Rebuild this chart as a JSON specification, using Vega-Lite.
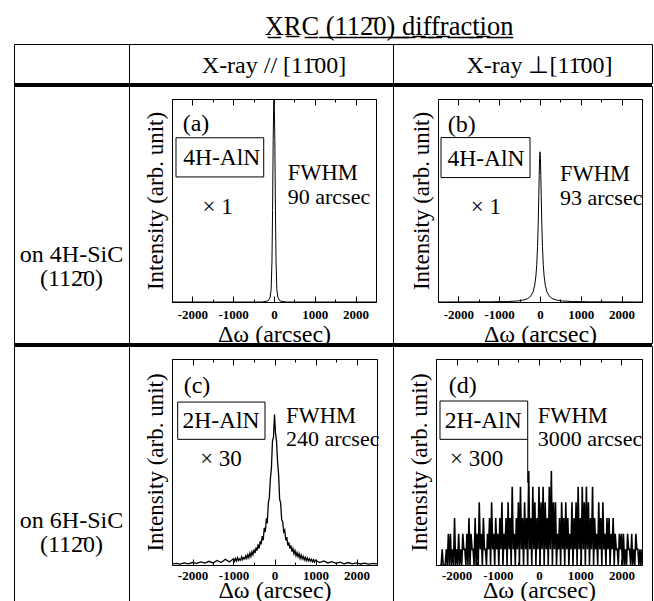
{
 "$schema": "https://vega.github.io/schema/vega-lite/v6.json",
 "padding": {"left": 13, "top": 13, "right": 0, "bottom": -1},
 "title": {"text": "X\u0332R\u0332C\u0332 \u0332(\u03321\u03321\u03322\u0304\u03320\u0332)\u0332 \u0332d\u0332i\u0332f\u0332f\u0332r\u0332a\u0332c\u0332t\u0332i\u0332o\u0332n\u0332", "fontSize": 26.5, "font": "Liberation Serif", "fontWeight": "normal", "color": "black", "anchor": "middle", "dx": 56, "offset": 3.5, "baseline": "top"},
 "config": {
  "font": "Liberation Serif",
  "view": {"stroke": "black", "strokeWidth": 1},
  "concat": {"spacing": 0},
  "axis": {"grid": false, "domainColor": "black", "domainWidth": 1, "tickColor": "black", "tickWidth": 1, "labelColor": "black", "titleColor": "black", "labelFont": "Liberation Serif", "titleFont": "Liberation Serif", "labelFontSize": 13, "labelFontWeight": "bold", "titleFontSize": 24, "titleFontWeight": "normal", "labelFlush": false},
  "text": {"font": "Liberation Serif", "color": "black"}
 },
 "datasets": {
  "a": [{"w":-2500,"I":0},{"w":-300,"I":0},{"w":-150,"I":0.005},{"w":-100,"I":0.02},{"w":-70,"I":0.06},{"w":-50,"I":0.2},{"w":-35,"I":0.45},{"w":-20,"I":0.8},{"w":-8,"I":0.97},{"w":0,"I":1.0},{"w":8,"I":0.97},{"w":20,"I":0.8},{"w":35,"I":0.45},{"w":50,"I":0.2},{"w":70,"I":0.06},{"w":100,"I":0.02},{"w":150,"I":0.005},{"w":300,"I":0},{"w":2500,"I":0}],
  "b": [{"w":-2500,"I":0},{"w":-1200,"I":0.001},{"w":-800,"I":0.0025},{"w":-550,"I":0.005},{"w":-400,"I":0.01},{"w":-300,"I":0.017},{"w":-220,"I":0.031},{"w":-170,"I":0.05},{"w":-130,"I":0.082},{"w":-100,"I":0.129},{"w":-80,"I":0.184},{"w":-60,"I":0.274},{"w":-45,"I":0.378},{"w":-30,"I":0.519},{"w":-20,"I":0.622},{"w":-10,"I":0.707},{"w":0,"I":0.74},{"w":10,"I":0.707},{"w":20,"I":0.622},{"w":30,"I":0.519},{"w":45,"I":0.378},{"w":60,"I":0.274},{"w":80,"I":0.184},{"w":100,"I":0.129},{"w":130,"I":0.082},{"w":170,"I":0.05},{"w":220,"I":0.031},{"w":300,"I":0.017},{"w":400,"I":0.01},{"w":550,"I":0.005},{"w":800,"I":0.0025},{"w":1200,"I":0.001},{"w":2500,"I":0}],
  "c": [{"w":-2500,"I":0.005},{"w":-2400,"I":0.008},{"w":-2300,"I":0.004},{"w":-2200,"I":0.01},{"w":-2100,"I":0.006},{"w":-2000,"I":0.012},{"w":-1900,"I":0.008},{"w":-1800,"I":0.015},{"w":-1700,"I":0.009},{"w":-1600,"I":0.018},{"w":-1500,"I":0.01},{"w":-1400,"I":0.022},{"w":-1300,"I":0.012},{"w":-1200,"I":0.028},{"w":-1100,"I":0.015},{"w":-1000,"I":0.03},{"w":-975,"I":0.018},{"w":-950,"I":0.032},{"w":-925,"I":0.02},{"w":-900,"I":0.035},{"w":-875,"I":0.022},{"w":-850,"I":0.03},{"w":-825,"I":0.024},{"w":-800,"I":0.04},{"w":-775,"I":0.026},{"w":-750,"I":0.036},{"w":-725,"I":0.03},{"w":-700,"I":0.045},{"w":-675,"I":0.032},{"w":-650,"I":0.05},{"w":-625,"I":0.036},{"w":-600,"I":0.058},{"w":-575,"I":0.042},{"w":-550,"I":0.065},{"w":-525,"I":0.05},{"w":-500,"I":0.075},{"w":-475,"I":0.058},{"w":-450,"I":0.085},{"w":-425,"I":0.07},{"w":-400,"I":0.1},{"w":-375,"I":0.08},{"w":-350,"I":0.115},{"w":-325,"I":0.1},{"w":-300,"I":0.14},{"w":-275,"I":0.12},{"w":-250,"I":0.18},{"w":-225,"I":0.16},{"w":-200,"I":0.22},{"w":-175,"I":0.21},{"w":-150,"I":0.3},{"w":-125,"I":0.33},{"w":-100,"I":0.42},{"w":-75,"I":0.47},{"w":-50,"I":0.6},{"w":-25,"I":0.62},{"w":0,"I":0.73},{"w":25,"I":0.64},{"w":50,"I":0.6},{"w":75,"I":0.5},{"w":100,"I":0.44},{"w":125,"I":0.32},{"w":150,"I":0.3},{"w":175,"I":0.22},{"w":200,"I":0.21},{"w":225,"I":0.16},{"w":250,"I":0.17},{"w":275,"I":0.12},{"w":300,"I":0.135},{"w":325,"I":0.095},{"w":350,"I":0.11},{"w":375,"I":0.08},{"w":400,"I":0.095},{"w":425,"I":0.065},{"w":450,"I":0.08},{"w":475,"I":0.055},{"w":500,"I":0.07},{"w":525,"I":0.045},{"w":550,"I":0.06},{"w":575,"I":0.04},{"w":600,"I":0.055},{"w":625,"I":0.032},{"w":650,"I":0.048},{"w":675,"I":0.03},{"w":700,"I":0.042},{"w":725,"I":0.025},{"w":750,"I":0.038},{"w":775,"I":0.022},{"w":800,"I":0.034},{"w":825,"I":0.02},{"w":850,"I":0.03},{"w":875,"I":0.018},{"w":900,"I":0.028},{"w":925,"I":0.016},{"w":950,"I":0.026},{"w":975,"I":0.014},{"w":1000,"I":0.024},{"w":1100,"I":0.012},{"w":1200,"I":0.02},{"w":1300,"I":0.01},{"w":1400,"I":0.016},{"w":1500,"I":0.008},{"w":1600,"I":0.014},{"w":1700,"I":0.006},{"w":1800,"I":0.012},{"w":1900,"I":0.006},{"w":2000,"I":0.01},{"w":2100,"I":0.005},{"w":2200,"I":0.009},{"w":2300,"I":0.004},{"w":2400,"I":0.008},{"w":2500,"I":0.005}],
  "d": [{"w":-2400,"I":0},{"w":-2375,"I":0},{"w":-2350,"I":0.076},{"w":-2325,"I":0},{"w":-2300,"I":0},{"w":-2275,"I":0},{"w":-2250,"I":0.076},{"w":-2225,"I":0},{"w":-2200,"I":0.152},{"w":-2175,"I":0},{"w":-2150,"I":0.152},{"w":-2125,"I":0},{"w":-2100,"I":0.076},{"w":-2075,"I":0},{"w":-2050,"I":0.228},{"w":-2025,"I":0},{"w":-2000,"I":0.076},{"w":-1975,"I":0},{"w":-1950,"I":0.152},{"w":-1925,"I":0},{"w":-1900,"I":0.076},{"w":-1875,"I":0},{"w":-1850,"I":0.152},{"w":-1825,"I":0.076},{"w":-1800,"I":0.076},{"w":-1775,"I":0},{"w":-1750,"I":0.152},{"w":-1725,"I":0},{"w":-1700,"I":0.228},{"w":-1675,"I":0},{"w":-1650,"I":0.152},{"w":-1625,"I":0.076},{"w":-1600,"I":0.076},{"w":-1575,"I":0},{"w":-1550,"I":0.228},{"w":-1525,"I":0},{"w":-1500,"I":0.152},{"w":-1475,"I":0},{"w":-1450,"I":0.304},{"w":-1425,"I":0.076},{"w":-1400,"I":0.152},{"w":-1375,"I":0},{"w":-1350,"I":0.228},{"w":-1325,"I":0.076},{"w":-1300,"I":0.076},{"w":-1275,"I":0},{"w":-1250,"I":0.152},{"w":-1225,"I":0.076},{"w":-1200,"I":0.228},{"w":-1175,"I":0},{"w":-1150,"I":0.304},{"w":-1125,"I":0.076},{"w":-1100,"I":0.152},{"w":-1075,"I":0},{"w":-1050,"I":0.228},{"w":-1025,"I":0.076},{"w":-1000,"I":0.152},{"w":-975,"I":0},{"w":-950,"I":0.228},{"w":-925,"I":0.076},{"w":-900,"I":0.304},{"w":-875,"I":0},{"w":-850,"I":0.152},{"w":-825,"I":0.076},{"w":-800,"I":0.228},{"w":-775,"I":0},{"w":-750,"I":0.304},{"w":-725,"I":0.076},{"w":-700,"I":0.228},{"w":-675,"I":0},{"w":-650,"I":0.38},{"w":-625,"I":0.076},{"w":-600,"I":0.152},{"w":-575,"I":0},{"w":-550,"I":0.228},{"w":-525,"I":0.076},{"w":-500,"I":0.304},{"w":-475,"I":0},{"w":-450,"I":0.38},{"w":-425,"I":0.076},{"w":-400,"I":0.228},{"w":-375,"I":0},{"w":-350,"I":0.304},{"w":-325,"I":0.076},{"w":-300,"I":0.228},{"w":-275,"I":0},{"w":-250,"I":0.456},{"w":-225,"I":0.076},{"w":-200,"I":0.228},{"w":-175,"I":0},{"w":-150,"I":0.38},{"w":-125,"I":0.076},{"w":-100,"I":0.304},{"w":-75,"I":0},{"w":-50,"I":0.228},{"w":-25,"I":0.076},{"w":0,"I":0.38},{"w":25,"I":0},{"w":50,"I":0.304},{"w":75,"I":0.076},{"w":100,"I":0.38},{"w":125,"I":0},{"w":150,"I":0.304},{"w":175,"I":0.076},{"w":200,"I":0.228},{"w":225,"I":0},{"w":250,"I":0.38},{"w":275,"I":0.076},{"w":300,"I":0.456},{"w":325,"I":0},{"w":350,"I":0.304},{"w":375,"I":0.076},{"w":400,"I":0.304},{"w":425,"I":0},{"w":450,"I":0.152},{"w":475,"I":0.076},{"w":500,"I":0.228},{"w":525,"I":0},{"w":550,"I":0.304},{"w":575,"I":0.076},{"w":600,"I":0.228},{"w":625,"I":0},{"w":650,"I":0.304},{"w":675,"I":0.076},{"w":700,"I":0.228},{"w":725,"I":0},{"w":750,"I":0.152},{"w":775,"I":0.076},{"w":800,"I":0.304},{"w":825,"I":0},{"w":850,"I":0.228},{"w":875,"I":0.076},{"w":900,"I":0.304},{"w":925,"I":0},{"w":950,"I":0.38},{"w":975,"I":0.076},{"w":1000,"I":0.228},{"w":1025,"I":0},{"w":1050,"I":0.38},{"w":1075,"I":0.076},{"w":1100,"I":0.304},{"w":1125,"I":0},{"w":1150,"I":0.38},{"w":1175,"I":0.076},{"w":1200,"I":0.304},{"w":1225,"I":0},{"w":1250,"I":0.228},{"w":1275,"I":0.076},{"w":1300,"I":0.38},{"w":1325,"I":0},{"w":1350,"I":0.228},{"w":1375,"I":0.076},{"w":1400,"I":0.152},{"w":1425,"I":0},{"w":1450,"I":0.304},{"w":1475,"I":0.076},{"w":1500,"I":0.228},{"w":1525,"I":0},{"w":1550,"I":0.304},{"w":1575,"I":0.076},{"w":1600,"I":0.152},{"w":1625,"I":0},{"w":1650,"I":0.228},{"w":1675,"I":0.076},{"w":1700,"I":0.228},{"w":1725,"I":0},{"w":1750,"I":0.152},{"w":1775,"I":0.076},{"w":1800,"I":0.228},{"w":1825,"I":0},{"w":1850,"I":0.152},{"w":1875,"I":0.076},{"w":1900,"I":0.076},{"w":1925,"I":0},{"w":1950,"I":0.152},{"w":1975,"I":0.076},{"w":2000,"I":0.152},{"w":2025,"I":0},{"w":2050,"I":0.152},{"w":2075,"I":0},{"w":2100,"I":0.076},{"w":2125,"I":0},{"w":2150,"I":0.152},{"w":2175,"I":0.076},{"w":2200,"I":0.076},{"w":2225,"I":0},{"w":2250,"I":0.152},{"w":2275,"I":0},{"w":2300,"I":0.076},{"w":2325,"I":0},{"w":2350,"I":0.152},{"w":2375,"I":0.076},{"w":2400,"I":0.076},{"w":2425,"I":0},{"w":2450,"I":0.076},{"w":2475,"I":0},{"w":2500,"I":0.076}],
  "notes": [
   {"panel":"a","kind":"tag","x":-2238,"y":0.84,"text":"(a)"},
   {"panel":"a","kind":"box","x":-2402,"x2":-252,"y":0.809,"y2":0.616},
   {"panel":"a","kind":"name","x":-1282,"y":0.675,"text":"4H-AlN"},
   {"panel":"a","kind":"mult","x":-1380,"y":0.435,"text":"× 1"},
   {"panel":"a","kind":"fh","x":336,"y":0.6,"text":"FWHM"},
   {"panel":"a","kind":"fv","x":336,"y":0.481,"text":"90 arcsec"},
   {"panel":"b","kind":"tag","x":-2262,"y":0.838,"text":"(b)"},
   {"panel":"b","kind":"box","x":-2426,"x2":-245,"y":0.81,"y2":0.613},
   {"panel":"b","kind":"name","x":-1324,"y":0.67,"text":"4H-AlN"},
   {"panel":"b","kind":"mult","x":-1324,"y":0.433,"text":"× 1"},
   {"panel":"b","kind":"fh","x":490,"y":0.597,"text":"FWHM"},
   {"panel":"b","kind":"fv","x":490,"y":0.48,"text":"93 arcsec"},
   {"panel":"c","kind":"tag","x":-2215,"y":0.836,"text":"(c)"},
   {"panel":"c","kind":"box","x":-2361,"x2":-232,"y":0.791,"y2":0.61},
   {"panel":"c","kind":"name","x":-1305,"y":0.667,"text":"2H-AlN"},
   {"panel":"c","kind":"mult","x":-1305,"y":0.48,"text":"× 30"},
   {"panel":"c","kind":"fh","x":280,"y":0.688,"text":"FWHM"},
   {"panel":"c","kind":"fv","x":280,"y":0.578,"text":"240 arcsec"},
   {"panel":"d","kind":"tag","x":-2192,"y":0.836,"text":"(d)"},
   {"panel":"d","kind":"box","x":-2403,"x2":-274,"y":0.796,"y2":0.61},
   {"panel":"d","kind":"ext","x":-274,"y":0.61,"y2":0.4},
   {"panel":"d","kind":"name","x":-1352,"y":0.667,"text":"2H-AlN"},
   {"panel":"d","kind":"mult","x":-1512,"y":0.48,"text":"× 300"},
   {"panel":"d","kind":"fh","x":-31,"y":0.688,"text":"FWHM"},
   {"panel":"d","kind":"fv","x":-31,"y":0.578,"text":"3000 arcsec"}
  ]
 },
 "columns": 3,
 "spacing": 0,
 "bounds": "flush",
 "concat": [
  {"width": 115, "height": 39, "view": {"stroke": "black", "strokeWidth": 1}, "data": {"values": [{"t": ""}]}, "mark": "text", "encoding": {"text": {"field": "t"}}},
  {"width": 264, "height": 39, "view": {"stroke": "black", "strokeWidth": 1}, "data": {"values": [{"t": "X-ray // [11\u030400]"}]}, "mark": {"type": "text", "fontSize": 24, "dx": 13, "dy": 2}, "encoding": {"text": {"field": "t"}}},
  {"width": 259, "height": 39, "view": {"stroke": "black", "strokeWidth": 1}, "data": {"values": [{"t": "X-ray \u22a5[11\u030400]"}]}, "mark": {"type": "text", "fontSize": 24, "dx": 17, "dy": 2}, "encoding": {"text": {"field": "t"}}},
  {"width": 115, "height": 3, "view": {"fill": "black", "stroke": null}, "data": {"values": [{"t": ""}]}, "mark": "text", "encoding": {"text": {"field": "t"}}},
  {"width": 264, "height": 3, "view": {"fill": "black", "stroke": null}, "data": {"values": [{"t": ""}]}, "mark": "text", "encoding": {"text": {"field": "t"}}},
  {"width": 259, "height": 3, "view": {"fill": "black", "stroke": null}, "data": {"values": [{"t": ""}]}, "mark": "text", "encoding": {"text": {"field": "t"}}},
  {"width": 115, "height": 257, "view": {"stroke": "black", "strokeWidth": 1}, "data": {"values": [{"t": "on 4H-SiC\n(112\u03040)"}]}, "mark": {"type": "text", "fontSize": 24, "lineBreak": "\n", "lineHeight": 24, "dy": 40}, "encoding": {"text": {"field": "t"}}},
  {"width": 264, "height": 257,
   "resolve": {"axis": {"x": "independent", "y": "independent"}},
   "layer": [
    {"data": {"name": "a"}, "mark": {"type": "line", "color": "black", "strokeWidth": 1},
     "encoding": {
      "x": {"field": "w", "type": "quantitative", "scale": {"domain": [-2500, 2500], "range": [43, 247], "nice": false, "zero": false},
            "axis": {"orient": "bottom", "offset": -41, "values": [-2500,-2000,-1500,-1000,-500,0,500,1000,1500,2000,2500], "labelExpr": "datum.value % 1000 == 0 ? '' + datum.value : ''", "tickSize": {"condition": {"test": "datum.value % 1000 == 0", "value": -6}, "value": -3}, "labelPadding": 12, "title": "Δω (arcsec)", "titlePadding": 1}},
      "y": {"field": "I", "type": "quantitative", "scale": {"domain": [0, 1], "range": [216, 13], "nice": false, "zero": false},
            "axis": {"orient": "left", "offset": -43, "labels": false, "ticks": false, "title": "Intensity (arb. unit)", "titleFontSize": 23, "titlePadding": 5}}}},
    {"data": {"name": "notes"}, "transform": [{"filter": "datum.panel == 'a' && datum.kind == 'box'"}],
     "mark": {"type": "rect", "fill": "white", "stroke": "black", "strokeWidth": 1},
     "encoding": {"x": {"field": "x", "type": "quantitative", "axis": null}, "x2": {"field": "x2"}, "y": {"field": "y", "type": "quantitative", "axis": null}, "y2": {"field": "y2"}}},
    {"data": {"name": "notes"}, "transform": [{"filter": "datum.panel == 'a' && (datum.kind == 'tag' || datum.kind == 'fh' || datum.kind == 'fv')"}],
     "mark": {"type": "text", "align": "left", "baseline": "alphabetic"},
     "encoding": {"x": {"field": "x", "type": "quantitative", "axis": {"orient": "top", "offset": -13, "labels": false, "title": null, "values": [-2500,-2000,-1500,-1000,-500,0,500,1000,1500,2000,2500], "tickSize": {"condition": {"test": "datum.value % 1000 == 0", "value": -6}, "value": -3}}},
                  "y": {"field": "y", "type": "quantitative", "axis": {"orient": "right", "offset": -17, "labels": false, "ticks": false, "title": null}},
                  "size": {"field": "kind", "type": "nominal", "scale": {"domain": ["tag", "name", "mult", "fh", "fv"], "range": [24, 22, 24, 23, 21]}, "legend": null},
                  "text": {"field": "text"}}},
    {"data": {"name": "notes"}, "transform": [{"filter": "datum.panel == 'a' && (datum.kind == 'name' || datum.kind == 'mult')"}],
     "mark": {"type": "text", "align": "center", "baseline": "alphabetic"},
     "encoding": {"x": {"field": "x", "type": "quantitative", "axis": null}, "y": {"field": "y", "type": "quantitative", "axis": null},
                  "size": {"field": "kind", "type": "nominal", "scale": {"domain": ["tag", "name", "mult", "fh", "fv"], "range": [24, 22, 24, 23, 21]}, "legend": null},
                  "text": {"field": "text"}}}
   ]},
  {"width": 259, "height": 257,
   "resolve": {"axis": {"x": "independent", "y": "independent"}},
   "layer": [
    {"data": {"name": "b"}, "mark": {"type": "line", "color": "black", "strokeWidth": 1},
     "encoding": {
      "x": {"field": "w", "type": "quantitative", "scale": {"domain": [-2500, 2500], "range": [45, 249], "nice": false, "zero": false},
            "axis": {"orient": "bottom", "offset": -41, "values": [-2500,-2000,-1500,-1000,-500,0,500,1000,1500,2000,2500], "labelExpr": "datum.value % 1000 == 0 ? '' + datum.value : ''", "tickSize": {"condition": {"test": "datum.value % 1000 == 0", "value": -6}, "value": -3}, "labelPadding": 12, "title": "Δω (arcsec)", "titlePadding": 1}},
      "y": {"field": "I", "type": "quantitative", "scale": {"domain": [0, 1], "range": [216, 13], "nice": false, "zero": false},
            "axis": {"orient": "left", "offset": -45, "labels": false, "ticks": false, "title": "Intensity (arb. unit)", "titleFontSize": 23, "titlePadding": 5}}}},
    {"data": {"name": "notes"}, "transform": [{"filter": "datum.panel == 'b' && datum.kind == 'box'"}],
     "mark": {"type": "rect", "fill": "white", "stroke": "black", "strokeWidth": 1},
     "encoding": {"x": {"field": "x", "type": "quantitative", "axis": null}, "x2": {"field": "x2"}, "y": {"field": "y", "type": "quantitative", "axis": null}, "y2": {"field": "y2"}}},
    {"data": {"name": "notes"}, "transform": [{"filter": "datum.panel == 'b' && (datum.kind == 'tag' || datum.kind == 'fh' || datum.kind == 'fv')"}],
     "mark": {"type": "text", "align": "left", "baseline": "alphabetic"},
     "encoding": {"x": {"field": "x", "type": "quantitative", "axis": {"orient": "top", "offset": -13, "labels": false, "title": null, "values": [-2500,-2000,-1500,-1000,-500,0,500,1000,1500,2000,2500], "tickSize": {"condition": {"test": "datum.value % 1000 == 0", "value": -6}, "value": -3}}},
                  "y": {"field": "y", "type": "quantitative", "axis": {"orient": "right", "offset": -10, "labels": false, "ticks": false, "title": null}},
                  "size": {"field": "kind", "type": "nominal", "scale": {"domain": ["tag", "name", "mult", "fh", "fv"], "range": [24, 22, 24, 23, 21]}, "legend": null},
                  "text": {"field": "text"}}},
    {"data": {"name": "notes"}, "transform": [{"filter": "datum.panel == 'b' && (datum.kind == 'name' || datum.kind == 'mult')"}],
     "mark": {"type": "text", "align": "center", "baseline": "alphabetic"},
     "encoding": {"x": {"field": "x", "type": "quantitative", "axis": null}, "y": {"field": "y", "type": "quantitative", "axis": null},
                  "size": {"field": "kind", "type": "nominal", "scale": {"domain": ["tag", "name", "mult", "fh", "fv"], "range": [24, 22, 24, 23, 21]}, "legend": null},
                  "text": {"field": "text"}}}
   ]},
  {"width": 115, "height": 3, "view": {"fill": "black", "stroke": null}, "data": {"values": [{"t": ""}]}, "mark": "text", "encoding": {"text": {"field": "t"}}},
  {"width": 264, "height": 3, "view": {"fill": "black", "stroke": null}, "data": {"values": [{"t": ""}]}, "mark": "text", "encoding": {"text": {"field": "t"}}},
  {"width": 259, "height": 3, "view": {"fill": "black", "stroke": null}, "data": {"values": [{"t": ""}]}, "mark": "text", "encoding": {"text": {"field": "t"}}},
  {"width": 115, "height": 256, "view": {"stroke": "black", "strokeWidth": 1}, "data": {"values": [{"t": "on 6H-SiC\n(112\u03040)"}]}, "mark": {"type": "text", "fontSize": 24, "lineBreak": "\n", "lineHeight": 24, "dy": 47}, "encoding": {"text": {"field": "t"}}},
  {"width": 264, "height": 256,
   "resolve": {"axis": {"x": "independent", "y": "independent"}},
   "layer": [
    {"data": {"name": "c"}, "mark": {"type": "line", "color": "black", "strokeWidth": 1.3},
     "encoding": {
      "x": {"field": "w", "type": "quantitative", "scale": {"domain": [-2500, 2500], "range": [43, 248], "nice": false, "zero": false},
            "axis": {"orient": "bottom", "offset": -37, "values": [-2500,-2000,-1500,-1000,-500,0,500,1000,1500,2000,2500], "labelExpr": "datum.value % 1000 == 0 ? '' + datum.value : ''", "tickSize": {"condition": {"test": "datum.value % 1000 == 0", "value": -6}, "value": -3}, "labelPadding": 10, "title": "Δω (arcsec)", "titlePadding": -4}},
      "y": {"field": "I", "type": "quantitative", "scale": {"domain": [0, 1], "range": [219, 13], "nice": false, "zero": false},
            "axis": {"orient": "left", "offset": -43, "labels": false, "ticks": false, "title": "Intensity (arb. unit)", "titleFontSize": 23, "titlePadding": 5}}}},
    {"data": {"name": "notes"}, "transform": [{"filter": "datum.panel == 'c' && datum.kind == 'box'"}],
     "mark": {"type": "rect", "fill": "white", "stroke": "black", "strokeWidth": 1},
     "encoding": {"x": {"field": "x", "type": "quantitative", "axis": null}, "x2": {"field": "x2"}, "y": {"field": "y", "type": "quantitative", "axis": null}, "y2": {"field": "y2"}}},
    {"data": {"name": "notes"}, "transform": [{"filter": "datum.panel == 'c' && (datum.kind == 'tag' || datum.kind == 'fh' || datum.kind == 'fv')"}],
     "mark": {"type": "text", "align": "left", "baseline": "alphabetic"},
     "encoding": {"x": {"field": "x", "type": "quantitative", "axis": {"orient": "top", "offset": -13, "labels": false, "title": null, "values": [-2500,-2000,-1500,-1000,-500,0,500,1000,1500,2000,2500], "tickSize": {"condition": {"test": "datum.value % 1000 == 0", "value": -6}, "value": -3}}},
                  "y": {"field": "y", "type": "quantitative", "axis": {"orient": "right", "offset": -16, "labels": false, "ticks": false, "title": null}},
                  "size": {"field": "kind", "type": "nominal", "scale": {"domain": ["tag", "name", "mult", "fh", "fv"], "range": [24, 22, 24, 23, 21]}, "legend": null},
                  "text": {"field": "text"}}},
    {"data": {"name": "notes"}, "transform": [{"filter": "datum.panel == 'c' && (datum.kind == 'name' || datum.kind == 'mult')"}],
     "mark": {"type": "text", "align": "center", "baseline": "alphabetic"},
     "encoding": {"x": {"field": "x", "type": "quantitative", "axis": null}, "y": {"field": "y", "type": "quantitative", "axis": null},
                  "size": {"field": "kind", "type": "nominal", "scale": {"domain": ["tag", "name", "mult", "fh", "fv"], "range": [24, 22, 24, 23, 21]}, "legend": null},
                  "text": {"field": "text"}}}
   ]},
  {"width": 259, "height": 256,
   "resolve": {"axis": {"x": "independent", "y": "independent"}},
   "layer": [
    {"data": {"name": "d"}, "mark": {"type": "line", "color": "black", "strokeWidth": 1.6},
     "encoding": {
      "x": {"field": "w", "type": "quantitative", "scale": {"domain": [-2500, 2500], "range": [43, 249], "nice": false, "zero": false},
            "axis": {"orient": "bottom", "offset": -37, "values": [-2500,-2000,-1500,-1000,-500,0,500,1000,1500,2000,2500], "labelExpr": "datum.value % 1000 == 0 ? '' + datum.value : ''", "tickSize": {"condition": {"test": "datum.value % 1000 == 0", "value": -6}, "value": -3}, "labelPadding": 10, "title": "Δω (arcsec)", "titlePadding": -4}},
      "y": {"field": "I", "type": "quantitative", "scale": {"domain": [0, 1], "range": [219, 13], "nice": false, "zero": false},
            "axis": {"orient": "left", "offset": -43, "labels": false, "ticks": false, "title": "Intensity (arb. unit)", "titleFontSize": 23, "titlePadding": 5}}}},
    {"data": {"name": "notes"}, "transform": [{"filter": "datum.panel == 'd' && datum.kind == 'box'"}],
     "mark": {"type": "rect", "fill": "white", "stroke": "black", "strokeWidth": 1},
     "encoding": {"x": {"field": "x", "type": "quantitative", "axis": null}, "x2": {"field": "x2"}, "y": {"field": "y", "type": "quantitative", "axis": null}, "y2": {"field": "y2"}}},
    {"data": {"name": "notes"}, "transform": [{"filter": "datum.panel == 'd' && datum.kind == 'ext'"}],
     "mark": {"type": "rule", "color": "black", "strokeWidth": 1},
     "encoding": {"x": {"field": "x", "type": "quantitative", "axis": null}, "y": {"field": "y", "type": "quantitative", "axis": null}, "y2": {"field": "y2"}}},
    {"data": {"name": "notes"}, "transform": [{"filter": "datum.panel == 'd' && (datum.kind == 'tag' || datum.kind == 'fh' || datum.kind == 'fv')"}],
     "mark": {"type": "text", "align": "left", "baseline": "alphabetic"},
     "encoding": {"x": {"field": "x", "type": "quantitative", "axis": {"orient": "top", "offset": -13, "labels": false, "title": null, "values": [-2500,-2000,-1500,-1000,-500,0,500,1000,1500,2000,2500], "tickSize": {"condition": {"test": "datum.value % 1000 == 0", "value": -6}, "value": -3}}},
                  "y": {"field": "y", "type": "quantitative", "axis": {"orient": "right", "offset": -10, "labels": false, "ticks": false, "title": null}},
                  "size": {"field": "kind", "type": "nominal", "scale": {"domain": ["tag", "name", "mult", "fh", "fv"], "range": [24, 22, 24, 23, 21]}, "legend": null},
                  "text": {"field": "text"}}},
    {"data": {"name": "notes"}, "transform": [{"filter": "datum.panel == 'd' && (datum.kind == 'name' || datum.kind == 'mult')"}],
     "mark": {"type": "text", "align": "center", "baseline": "alphabetic"},
     "encoding": {"x": {"field": "x", "type": "quantitative", "axis": null}, "y": {"field": "y", "type": "quantitative", "axis": null},
                  "size": {"field": "kind", "type": "nominal", "scale": {"domain": ["tag", "name", "mult", "fh", "fv"], "range": [24, 22, 24, 23, 21]}, "legend": null},
                  "text": {"field": "text"}}}
   ]}
 ]
}
